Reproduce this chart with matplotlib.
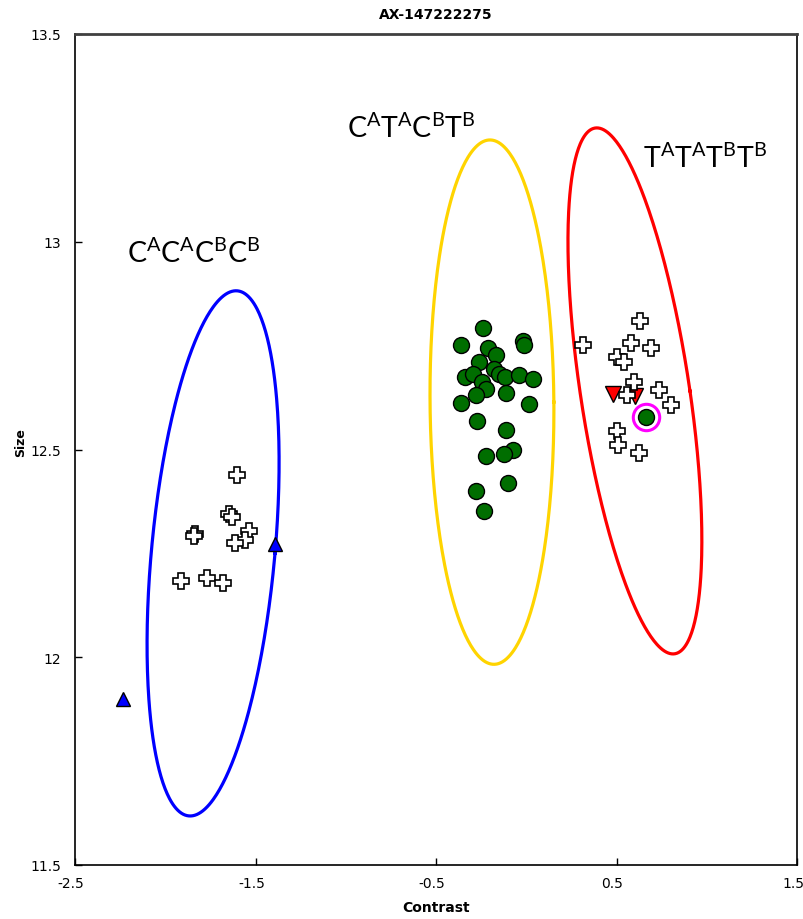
import numpy as np
import matplotlib
matplotlib.use('Agg')
import matplotlib.pyplot as plt
from matplotlib.transforms import ScaledTranslation

plt.rcParams['mathtext.fontset'] = 'custom'
plt.rcParams['mathtext.rm'] = 'Lato'

# --- data ---
# blue cluster (CACACBCB)
blue_tri_x = [-2.234, -1.392]
blue_tri_y = [11.900, 12.273]
blue_cross_x = [-1.604, -1.647, -1.632, -1.835, -1.839, -1.534, -1.558, -1.614, -1.914, -1.767, -1.682]
blue_cross_y = [12.439, 12.345, 12.338, 12.297, 12.292, 12.305, 12.281, 12.275, 12.183, 12.190, 12.179]

# yellow cluster (CATACBTB)
green_x = [-0.241, -0.363, -0.020, -0.012, -0.210, -0.168, -0.260, -0.179, -0.339, -0.293,
           -0.149, -0.118, -0.039, 0.039, -0.247, -0.223, -0.278, -0.112, -0.363, 0.015,
           -0.274, -0.112, -0.072, -0.123, -0.225, -0.099, -0.278, -0.234]
green_y = [12.792, 12.752, 12.760, 12.752, 12.744, 12.727, 12.711, 12.694, 12.674, 12.682,
           12.682, 12.674, 12.680, 12.670, 12.662, 12.646, 12.631, 12.635, 12.612, 12.610,
           12.569, 12.548, 12.500, 12.488, 12.485, 12.419, 12.401, 12.351]

# red cluster (TATATBTB)
red_tri_x = [0.479, 0.603]
red_tri_y = [12.634, 12.629]
red_cross_x = [0.630, 0.316, 0.580, 0.690, 0.504, 0.543, 0.597, 0.557, 0.735, 0.802, 0.501, 0.510, 0.625]
red_cross_y = [12.810, 12.752, 12.756, 12.744, 12.722, 12.711, 12.662, 12.632, 12.642, 12.607, 12.544, 12.512, 12.492]
hl_x = [0.663]
hl_y = [12.578]

# cluster ellipses: centre, offset to top point, half width of horizontal chord
ell_cx = [-1.735, -0.190, 0.602]
ell_cy = [12.250, 12.614, 12.641]
ell_tx = [0.127, -0.011, -0.211]
ell_ty = [0.632, 0.631, 0.633]
ell_w = [0.343, 0.343, 0.305]
ell_colors = ['#0000FF', '#FFD400', '#FF0000']

labels = [r'$\mathrm{C^{A}C^{A}C^{B}C^{B}}$', r'$\mathrm{C^{A}T^{A}C^{B}T^{B}}$', r'$\mathrm{T^{A}T^{A}T^{B}T^{B}}$']
label_x = [-2.212, -0.993, 0.647]
label_y = [12.951, 13.252, 13.180]

xticks = [-2.5, -1.5, -0.5, 0.5, 1.5]
yticks = [11.5, 12, 12.5, 13, 13.5]

fig = plt.figure(figsize=(8.04, 9.2), dpi=100)
ax = fig.add_axes([75 / 804, 1 - 866 / 920, 722 / 804, 831 / 920])

t = np.linspace(0, 2 * np.pi, 400)
for i in range(3):
    ex = ell_cx[i] + ell_tx[i] * np.sin(t) + ell_w[i] * np.cos(t)
    ey = ell_cy[i] + ell_ty[i] * np.sin(t)
    ax.plot(ex, ey, color=ell_colors[i], lw=2.3, zorder=2)

ax.plot(blue_tri_x, blue_tri_y, '^', ms=10, mfc='#0000FF', mec='black', mew=1, ls='none', zorder=3)
ax.plot(blue_cross_x, blue_cross_y, 'P', ms=12, mfc='white', mec='black', mew=1.2, ls='none', zorder=4)
ax.plot(green_x, green_y, 'o', ms=11.5, mfc='#006E00', mec='black', mew=1, ls='none', zorder=3)
ax.plot(red_tri_x, red_tri_y, 'v', ms=11, mfc='#FF0000', mec='black', mew=1, ls='none', zorder=3)
ax.plot(red_cross_x, red_cross_y, 'P', ms=12, mfc='white', mec='black', mew=1.2, ls='none', zorder=4)
ax.plot(hl_x, hl_y, 'o', ms=19, mfc='white', mec='#FF00FF', mew=2.2, ls='none', zorder=5)
ax.plot(hl_x, hl_y, 'o', ms=11.5, mfc='#006E00', mec='black', mew=1, ls='none', zorder=6)

for i in range(3):
    ax.text(label_x[i], label_y[i], labels[i], fontsize=20.5, ha='left', va='baseline')

ax.set_xlim(-2.5, 1.5)
ax.set_ylim(11.5, 13.5)
ax.set_xticks(xticks)
ax.set_xticklabels(['-2.5', '-1.5', '-0.5', '0.5', '1.5'])
ax.set_yticks(yticks)
ax.set_yticklabels(['11.5', '12', '12.5', '13', '13.5'])
ax.tick_params(direction='in', length=5, width=1, labelsize=10, pad=8)
ax.tick_params(axis='y', pad=10)
shift = ScaledTranslation(-4 / 100, 0, fig.dpi_scale_trans)
for lab in ax.get_xticklabels():
    lab.set_transform(lab.get_transform() + shift)
for s in ['left', 'bottom', 'right']:
    ax.spines[s].set_linewidth(1.2)
ax.spines['top'].set_linewidth(2)
ax.spines['top'].set_color('#404040')

fig.text(436 / 804, 1 - 15 / 920, 'AX-147222275', ha='center', va='center', fontsize=10, fontweight='bold')
fig.text(436 / 804, 1 - 908 / 920, 'Contrast', ha='center', va='center', fontsize=10, fontweight='bold')
fig.text(14 / 804, 1 - 443 / 920, 'Size', rotation=90, ha='left', va='center', fontsize=9, fontweight='bold')

fig.savefig('out.png', dpi=100)
